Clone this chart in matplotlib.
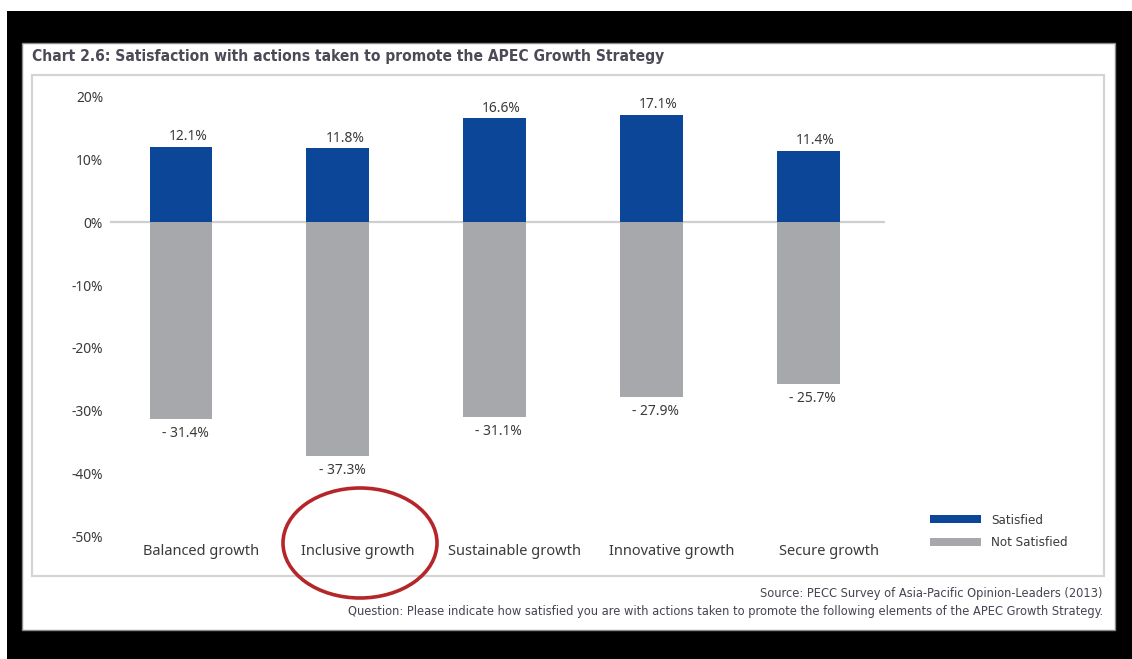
import matplotlib.pyplot as plt
from matplotlib.patches import Rectangle, Ellipse

# data
categories = ["Balanced growth", "Inclusive growth", "Sustainable growth",
              "Innovative growth", "Secure growth"]
satisfied = [12.1, 11.8, 16.6, 17.1, 11.4]
not_satisfied = [-31.4, -37.3, -31.1, -27.9, -25.7]
yticks = [20, 10, 0, -10, -20, -30, -40, -50]

W, H = 1132, 659
BLUE = "#0b4699"
GREY = "#a7a8ab"
TXT = "#3a3a3a"
narrow = ["DejaVu Sans"]
body = ["Noto Sans", "DejaVu Sans"]


def fx(px):
    return px / W


def fy(py):
    # pixel row (from top) -> figure fraction
    return 1 - py / H


fig = plt.figure(figsize=(W / 100, H / 100), dpi=100)
fig.patch.set_facecolor("white")

# black mat and white panel
fig.add_artist(Rectangle((fx(7), 0), 1 - fx(7), fy(11), transform=fig.transFigure,
                         facecolor="black", edgecolor="none", zorder=0))
fig.add_artist(Rectangle((fx(22), fy(630)), fx(1115 - 22), (630 - 43) / H,
                         transform=fig.transFigure, facecolor="white",
                         edgecolor="#8a8a8a", lw=1, zorder=1))
# light frame around the chart
fig.add_artist(Rectangle((fx(32), fy(576)), fx(1104 - 32), (576 - 75) / H,
                         transform=fig.transFigure, facecolor="none",
                         edgecolor="#d4d4d4", lw=1.6, zorder=2))

fig.text(fx(32), fy(57), "Chart 2.6: Satisfaction with actions taken to promote the APEC Growth Strategy",
         family=narrow, stretch="condensed", weight="bold", fontsize=11.2,
         color="#4b4b58", va="center", ha="left")

ax = fig.add_axes([fx(110), fy(536), fx(885 - 110), (536 - 97) / H])
ax.set_zorder(3)
ax.patch.set_alpha(0)

x = list(range(len(categories)))
b1 = ax.bar(x, satisfied, width=0.4, color=BLUE, label="Satisfied", zorder=3)
b2 = ax.bar(x, not_satisfied, width=0.4, color=GREY, label="Not Satisfied", zorder=3)
ax.axhline(0, color="#cfcfcf", lw=1.6, zorder=2)

for xi, v in zip(x, satisfied):
    ax.annotate(f"{v:.1f}%", (xi, v), xytext=(5, 2), textcoords="offset points",
                ha="center", va="bottom", fontsize=10, color=TXT, family=body)
for xi, v in zip(x, not_satisfied):
    ax.annotate(f"- {abs(v):.1f}%", (xi, v), xytext=(3, -5), textcoords="offset points",
                ha="center", va="top", fontsize=10, color=TXT, family=body)

for xi, c in zip(x, categories):
    ax.text(xi + 0.13, -52.4, c, ha="center", va="center", fontsize=10.5,
            color=TXT, family=body)

ax.set_xlim(-0.453, 4.49)
ax.set_ylim(-50, 20)
ax.set_yticks(yticks)
ax.set_yticklabels([f"{t}%" for t in yticks], family=body, fontsize=10, color=TXT)
ax.tick_params(axis="y", length=0, pad=5)
ax.set_xticks([])
for s in ax.spines.values():
    s.set_visible(False)

fig.legend(handles=[b1, b2], loc="upper left",
           bbox_to_anchor=(fx(930), fy(514)), frameon=False,
           prop={"family": narrow, "stretch": "condensed", "size": 9.5},
           handlelength=3.9, handleheight=0.55,
           handletextpad=0.75, labelspacing=0.72, borderpad=0, borderaxespad=0,
           labelcolor=TXT)

# red circle around "Inclusive growth"
fig.add_artist(Ellipse((fx(360), fy(543)), fx(154), 110 / H, transform=fig.transFigure,
                       facecolor="none", edgecolor="#b5262a", lw=2.6, zorder=5))

fig.text(fx(1103), fy(593), "Source: PECC Survey of Asia-Pacific Opinion-Leaders (2013)",
         family=narrow, stretch="condensed", fontsize=9.2, color="#454552", ha="right", va="center")
fig.text(fx(1103), fy(611),
         "Question: Please indicate how satisfied you are with actions taken to promote the following elements of the APEC Growth Strategy.",
         family=narrow, stretch="condensed", fontsize=9.2, color="#454552", ha="right", va="center")

fig.savefig("out.png", dpi=100)
